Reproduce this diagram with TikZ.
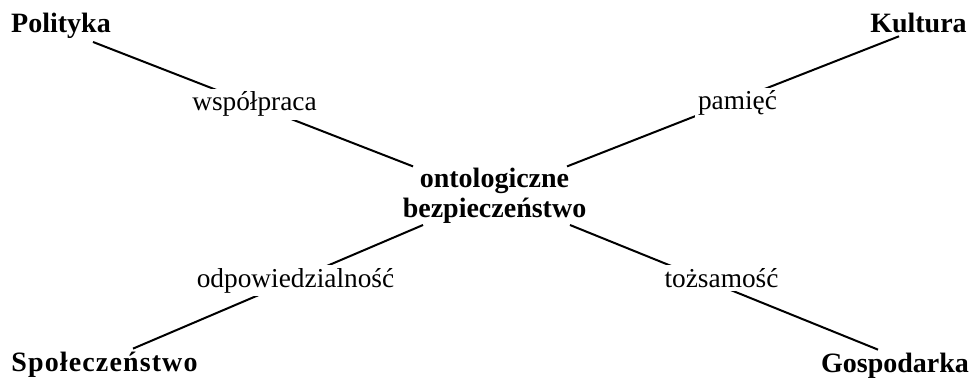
\documentclass[tikz,border=0pt]{standalone}
\usepackage{fontspec}
\setmainfont{Liberation Serif}
\begin{document}
\begin{tikzpicture}[x=0.75pt,y=0.75pt,
  every node/.style={font=\fontsize{20.5}{22.5}\selectfont},
  pole/.style={font=\fontsize{21}{22.5}\selectfont\bfseries, inner sep=2pt, anchor=base},
  haslo/.style={fill=white, inner sep=2.5pt, anchor=base},
  link/.style={draw, line width=1.5pt}]
\useasboundingbox (0,0) rectangle (977,-381);
\node[pole] (pol) at (61,-33) {Polityka};
\node[pole] (kul) at (918.5,-33) {Kultura};
\node[pole] (spo) at (104.5,-371) {\addfontfeature{LetterSpace=4}Społeczeństwo};
\node[pole] (gos) at (895,-372) {Gospodarka};
\node[pole, align=center, anchor=center, inner ysep=1pt] (ont) at (494.5,-195.7) {ontologiczne\\bezpieczeństwo};
\path[link] ([xshift=24pt]pol.south) -- ([xshift=-61.1pt]ont.north);
\path[link] ([xshift=-14.6pt]kul.south) -- ([xshift=54.4pt]ont.north);
\path[link] ([xshift=21.4pt]spo.north) -- ([xshift=-53.6pt]ont.south);
\path[link] ([xshift=-12.75pt]gos.north) -- ([xshift=56.6pt]ont.south);
\node[haslo] (wsp) at (254.5,-111) {współpraca};
\node[haslo] (pam) at (737.5,-110) {pamięć};
\node[haslo] (odp) at (295.5,-287) {odpowiedzialność};
\node[haslo] (toz) at (721.5,-287) {tożsamość};
\end{tikzpicture}
\end{document}
